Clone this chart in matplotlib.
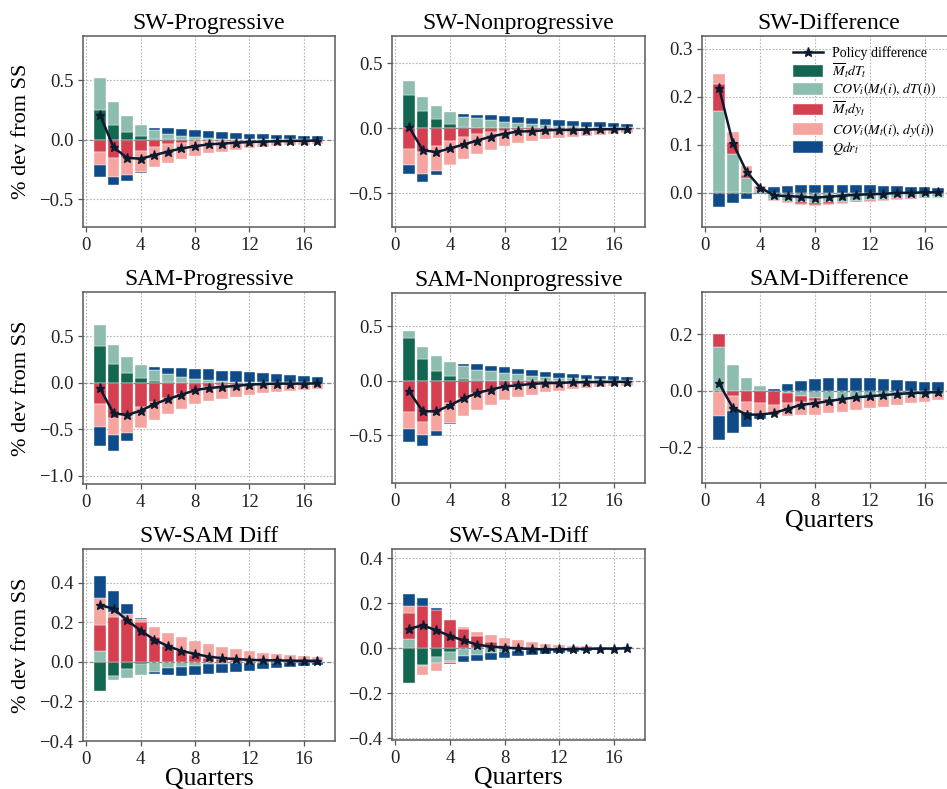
import numpy as np
import matplotlib
matplotlib.use("Agg")
import matplotlib.pyplot as plt

plt.rcParams.update({
    "font.family": ["Liberation Serif", "DejaVu Serif"],
    "mathtext.fontset": "stix",
    "axes.unicode_minus": True,
})

quarters = np.arange(1, 18)
x_ticks = [0, 4, 8, 12, 16]

component_labels = [
    r"$\overline{M}_t dT_t$",
    r"$COV_i(M_t(i),\, dT(i))$",
    r"$\overline{M}_t dy_t$",
    r"$COV_i(M_t(i),\, dy(i))$",
    r"$Qdr_t$",
]
component_colors = ["#13664f", "#8dbdaf", "#d63f50", "#f5a4a0", "#0f4b88"]
line_label = "Policy difference"

# ---- SW-Progressive ----
sw_prog_mdT = [0.25, 0.124, 0.062, 0.028, 0.008, 0.003, 0.001, 0, 0, 0, 0, 0, 0, 0, 0, 0, 0]
sw_prog_covdT = [0.27, 0.196, 0.135, 0.092, 0.072, 0.047, 0.03, 0.02, 0.012, 0.008, 0.006, 0.005, 0.004, 0.003, 0.002, 0.002, 0.001]
sw_prog_mdy = [-0.10, -0.155, -0.15, -0.095, -0.06, -0.04, -0.025, -0.015, -0.01, -0.008, -0.006, -0.005, -0.004, -0.003, -0.003, -0.002, -0.002]
sw_prog_covdy = [-0.11, -0.155, -0.15, -0.175, -0.17, -0.155, -0.14, -0.125, -0.105, -0.092, -0.079, -0.067, -0.059, -0.052, -0.045, -0.04, -0.034]
sw_prog_qdr = [-0.10, -0.075, -0.05, -0.01, 0.02, 0.045, 0.06, 0.065, 0.064, 0.059, 0.054, 0.047, 0.043, 0.039, 0.035, 0.031, 0.028]

# ---- SW-Nonprogressive ----
sw_nonprog_mdT = [0.256, 0.133, 0.069, 0.033, 0.012, 0.004, 0.001, 0, 0, 0, 0, 0, 0, 0, 0, 0, 0]
sw_nonprog_covdT = [0.108, 0.111, 0.103, 0.095, 0.078, 0.073, 0.062, 0.05, 0.04, 0.03, 0.025, 0.02, 0.016, 0.013, 0.01, 0.008, 0.006]
sw_nonprog_mdy = [-0.16, -0.18, -0.136, -0.097, -0.07, -0.045, -0.03, -0.02, -0.014, -0.01, -0.008, -0.006, -0.005, -0.004, -0.003, -0.003, -0.002]
sw_nonprog_covdy = [-0.12, -0.172, -0.19, -0.183, -0.165, -0.155, -0.135, -0.115, -0.096, -0.09, -0.077, -0.069, -0.063, -0.056, -0.05, -0.044, -0.038]
sw_nonprog_qdr = [-0.074, -0.06, -0.03, -0.003, 0.02, 0.028, 0.038, 0.043, 0.045, 0.047, 0.045, 0.042, 0.039, 0.037, 0.035, 0.032, 0.029]

# ---- SW-Difference ----
sw_diff_mdT = [0.002, 0.001, 0, 0, 0, 0, 0, 0, 0, 0, 0, 0, 0, 0, 0, 0, 0]
sw_diff_covdT = [0.168, 0.08, 0.03, 0.004, -0.012, -0.016, -0.019, -0.021, -0.02, -0.018, -0.016, -0.015, -0.013, -0.011, -0.01, -0.009, -0.008]
sw_diff_mdy = [0.057, 0.025, 0.007, 0.002, -0.003, -0.004, -0.004, -0.004, -0.003, -0.003, -0.003, -0.002, -0.002, -0.002, -0.002, -0.001, -0.001]
sw_diff_covdy = [0.021, 0.02, 0.019, 0.008, -0.002, -0.002, -0.002, -0.002, -0.002, -0.002, -0.001, -0.002, -0.002, -0.001, -0.001, -0.001, -0.001]
sw_diff_qdr = [-0.03, -0.022, -0.012, -0.003, 0.012, 0.015, 0.017, 0.017, 0.017, 0.017, 0.016, 0.016, 0.015, 0.014, 0.013, 0.012, 0.011]

# ---- SAM-Progressive ----
sam_prog_mdT = [0.393, 0.20, 0.104, 0.054, 0.015, 0.004, 0.001, 0, 0, 0, 0, 0, 0, 0, 0, 0, 0]
sam_prog_covdT = [0.225, 0.204, 0.175, 0.136, 0.12, 0.086, 0.06, 0.035, 0.025, 0.018, 0.012, 0.008, 0.006, 0.004, 0.003, 0.002, 0.001]
sam_prog_mdy = [-0.232, -0.375, -0.355, -0.257, -0.21, -0.165, -0.12, -0.075, -0.045, -0.03, -0.02, -0.014, -0.01, -0.008, -0.006, -0.005, -0.004]
sam_prog_covdy = [-0.247, -0.186, -0.18, -0.225, -0.19, -0.17, -0.165, -0.155, -0.155, -0.145, -0.135, -0.116, -0.105, -0.092, -0.084, -0.075, -0.064]
sam_prog_qdr = [-0.20, -0.171, -0.09, -0.008, 0.035, 0.07, 0.095, 0.115, 0.118, 0.112, 0.108, 0.102, 0.094, 0.086, 0.077, 0.068, 0.059]

# ---- SAM-Nonprogressive ----
sam_nonprog_mdT = [0.398, 0.199, 0.095, 0.046, 0.02, 0.005, 0.001, 0, 0, 0, 0, 0, 0, 0, 0, 0, 0]
sam_nonprog_covdT = [0.064, 0.116, 0.131, 0.125, 0.115, 0.10, 0.09, 0.075, 0.06, 0.05, 0.04, 0.03, 0.024, 0.019, 0.015, 0.012, 0.009]
sam_nonprog_mdy = [-0.281, -0.379, -0.285, -0.205, -0.16, -0.11, -0.08, -0.05, -0.035, -0.025, -0.018, -0.013, -0.01, -0.008, -0.006, -0.005, -0.004]
sam_nonprog_covdy = [-0.159, -0.116, -0.17, -0.183, -0.16, -0.155, -0.14, -0.125, -0.115, -0.10, -0.087, -0.077, -0.068, -0.058, -0.052, -0.045, -0.039]
sam_nonprog_qdr = [-0.117, -0.098, -0.05, -0.006, 0.025, 0.05, 0.05, 0.05, 0.05, 0.048, 0.045, 0.042, 0.041, 0.036, 0.033, 0.03, 0.026]

# ---- SAM-Difference ----
sam_diff_mdT = [-0.004, -0.001, 0, 0, 0, 0, 0, 0, 0, 0, 0, 0, 0, 0, 0, 0, 0]
sam_diff_covdT = [0.155, 0.09, 0.045, 0.015, -0.002, -0.01, -0.018, -0.027, -0.03, -0.03, -0.028, -0.027, -0.025, -0.022, -0.02, -0.018, -0.016]
sam_diff_mdy = [0.045, -0.018, -0.04, -0.045, -0.048, -0.035, -0.022, -0.01, -0.006, -0.005, -0.004, -0.004, -0.003, -0.003, -0.002, -0.002, -0.002]
sam_diff_covdy = [-0.085, -0.052, -0.035, -0.04, -0.035, -0.045, -0.045, -0.048, -0.044, -0.04, -0.036, -0.032, -0.029, -0.025, -0.022, -0.019, -0.016]
sam_diff_qdr = [-0.085, -0.08, -0.055, -0.015, 0.006, 0.025, 0.035, 0.04, 0.043, 0.045, 0.044, 0.043, 0.041, 0.038, 0.035, 0.032, 0.029]

# ---- SW-SAM Diff (progressive) ----
swsam_prog_mdT = [-0.148, -0.07, -0.035, -0.012, -0.003, -0.001, 0, 0, 0, 0, 0, 0, 0, 0, 0, 0, 0]
swsam_prog_covdT = [0.055, -0.02, -0.045, -0.053, -0.047, -0.03, -0.025, -0.02, -0.012, -0.01, -0.008, -0.006, -0.005, -0.004, -0.003, -0.002, -0.002]
swsam_prog_mdy = [0.13, 0.228, 0.215, 0.20, 0.125, 0.08, 0.055, 0.035, 0.02, 0.012, 0.008, 0.006, 0.004, 0.003, 0.002, 0.002, 0.001]
swsam_prog_covdy = [0.135, 0.025, 0.025, 0.015, 0.05, 0.068, 0.07, 0.07, 0.068, 0.063, 0.056, 0.048, 0.041, 0.035, 0.03, 0.025, 0.022]
swsam_prog_qdr = [0.115, 0.105, 0.05, 0.007, -0.013, -0.038, -0.045, -0.045, -0.05, -0.047, -0.042, -0.038, -0.032, -0.027, -0.023, -0.02, -0.016]

# ---- SW-SAM-Diff (nonprogressive) ----
swsam_nonprog_mdT = [-0.153, -0.073, -0.04, -0.015, -0.005, -0.001, 0, 0, 0, 0, 0, 0, 0, 0, 0, 0, 0]
swsam_nonprog_covdT = [0.04, -0.007, -0.025, -0.04, -0.03, -0.03, -0.02, -0.015, -0.01, -0.006, -0.004, -0.003, -0.002, -0.002, -0.001, -0.001, -0.001]
swsam_nonprog_mdy = [0.115, 0.19, 0.17, 0.125, 0.088, 0.055, 0.03, 0.015, 0.008, 0.004, 0.002, 0.001, 0.001, 0, 0, 0, 0]
swsam_nonprog_covdy = [0.035, -0.04, -0.035, -0.008, 0.007, 0.017, 0.028, 0.03, 0.027, 0.023, 0.018, 0.014, 0.011, 0.009, 0.007, 0.005, 0.004]
swsam_nonprog_qdr = [0.05, 0.032, 0.01, -0.007, -0.025, -0.025, -0.03, -0.027, -0.025, -0.024, -0.021, -0.017, -0.013, -0.009, -0.007, -0.005, -0.003]

W, H = 947, 789
fig = plt.figure(figsize=(W / 100, H / 100), dpi=100)
fig.patch.set_facecolor("white")


def axes_at(left, top, right, bottom):
    return fig.add_axes([left / W, 1 - bottom / H, (right - left) / W, (bottom - top) / H])


panels = [
    dict(title="SW-Progressive",
         comps=[sw_prog_mdT, sw_prog_covdT, sw_prog_mdy, sw_prog_covdy, sw_prog_qdr],
         box=(83, 36, 335, 227), ylim=(-0.735, 0.873), yticks=[-0.5, 0.0, 0.5],
         ylabel=True, xlabel=False, legend=False),
    dict(title="SW-Nonprogressive",
         comps=[sw_nonprog_mdT, sw_nonprog_covdT, sw_nonprog_mdy, sw_nonprog_covdy, sw_nonprog_qdr],
         box=(392, 36, 645, 227), ylim=(-0.76, 0.71), yticks=[-0.5, 0.0, 0.5],
         ylabel=False, xlabel=False, legend=False),
    dict(title="SW-Difference",
         comps=[sw_diff_mdT, sw_diff_covdT, sw_diff_mdy, sw_diff_covdy, sw_diff_qdr],
         box=(702, 36, 956, 227), ylim=(-0.071, 0.326), yticks=[0.0, 0.1, 0.2, 0.3],
         ylabel=False, xlabel=False, legend=True),
    dict(title="SAM-Progressive",
         comps=[sam_prog_mdT, sam_prog_covdT, sam_prog_mdy, sam_prog_covdy, sam_prog_qdr],
         box=(83, 292, 335, 484), ylim=(-1.086, 0.972), yticks=[-1.0, -0.5, 0.0, 0.5],
         ylabel=True, xlabel=False, legend=False),
    dict(title="SAM-Nonprogressive",
         comps=[sam_nonprog_mdT, sam_nonprog_covdT, sam_nonprog_mdy, sam_nonprog_covdy, sam_nonprog_qdr],
         box=(392, 293, 645, 483), ylim=(-0.936, 0.807), yticks=[-0.5, 0.0, 0.5],
         ylabel=False, xlabel=False, legend=False),
    dict(title="SAM-Difference",
         comps=[sam_diff_mdT, sam_diff_covdT, sam_diff_mdy, sam_diff_covdy, sam_diff_qdr],
         box=(702, 292, 956, 483), ylim=(-0.327, 0.349), yticks=[-0.2, 0.0, 0.2],
         ylabel=False, xlabel=True, legend=False),
    dict(title="SW-SAM Diff",
         comps=[swsam_prog_mdT, swsam_prog_covdT, swsam_prog_mdy, swsam_prog_covdy, swsam_prog_qdr],
         box=(83, 549, 335, 741), ylim=(-0.40, 0.57), yticks=[-0.4, -0.2, 0.0, 0.2, 0.4],
         ylabel=True, xlabel=True, legend=False),
    dict(title="SW-SAM-Diff",
         comps=[swsam_nonprog_mdT, swsam_nonprog_covdT, swsam_nonprog_mdy, swsam_nonprog_covdy, swsam_nonprog_qdr],
         box=(392, 549, 645, 740), ylim=(-0.407, 0.441), yticks=[-0.4, -0.2, 0.0, 0.2, 0.4],
         ylabel=False, xlabel=True, legend=False),
]

for p in panels:
    ax = axes_at(*p["box"])
    ax.set_axisbelow(True)
    ax.grid(True, color="#b5b5b5", linestyle=(0, (1.5, 1.5)), linewidth=0.8)

    pos = np.zeros(len(quarters))
    neg = np.zeros(len(quarters))
    for vals, color, label in zip(p["comps"], component_colors, component_labels):
        v = np.asarray(vals, dtype=float)
        base = np.where(v >= 0, pos, neg)
        ax.bar(quarters, v, width=0.85, bottom=base, color=color,
               edgecolor="#f7f7f7", linewidth=0.3, label=label, zorder=2)
        pos += np.clip(v, 0, None)
        neg += np.clip(v, None, 0)

    ax.axhline(0, color="#8a8a8a", linestyle=(0, (3, 2)), linewidth=0.9, zorder=3)
    total = np.sum(np.asarray(p["comps"], dtype=float), axis=0)
    ax.plot(quarters, total, color="#0b1a2e", linewidth=1.8, marker="*",
            markersize=6.5, zorder=4, label=line_label)

    ax.set_ylim(*p["ylim"])
    ax.set_yticks(p["yticks"])
    ax.set_xticks(x_ticks)
    ax.set_xlim(-0.25, 18.3)
    ax.set_title(p["title"], fontsize=17, pad=5)
    ax.tick_params(labelsize=13.5, labelcolor="#222222", color="#555555",
                   length=3.5, width=0.9)
    for s in ax.spines.values():
        s.set_color("#5a5a5a")
        s.set_linewidth(1.1)
    if p["ylabel"]:
        ax.set_ylabel("% dev from SS", fontsize=16, labelpad=6)
    if p["xlabel"]:
        ax.set_xlabel("Quarters", fontsize=18.5, labelpad=0)
    if p["legend"]:
        handles, labels = ax.get_legend_handles_labels()
        order = [labels.index(line_label)] + [labels.index(l) for l in component_labels]
        ax.legend([handles[i] for i in order], [labels[i] for i in order],
                  loc="upper left", bbox_to_anchor=(0.325, 0.99), frameon=False,
                  fontsize=10, handlelength=2.2, handleheight=0.9,
                  handletextpad=0.6, labelspacing=0.1, borderaxespad=0.2)

fig.savefig("out.png", dpi=100, facecolor="white")
